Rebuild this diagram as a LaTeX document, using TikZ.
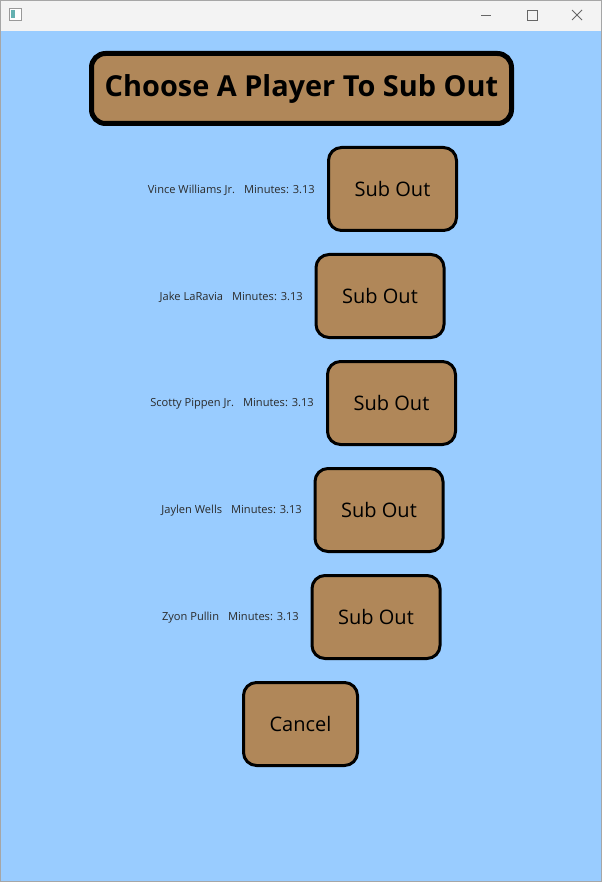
\documentclass[tikz,border=0pt]{standalone}
\usepackage{fontspec}
\setmainfont{Open Sans}
\definecolor{bgblue}{HTML}{99CCFF}
\definecolor{tan}{HTML}{B08759}
\definecolor{barg}{HTML}{F3F3F3}
\definecolor{lbl}{HTML}{2A2A2A}
\tikzset{
  subbtn/.style={draw=black, line width=3pt, fill=tan, rounded corners=13pt,
    minimum width=128pt, minimum height=83pt, inner sep=0pt,
    font=\fontsize{20}{24}\selectfont},
  titlebtn/.style={draw=black, line width=5pt, fill=tan, rounded corners=14pt,
    minimum width=420pt, minimum height=70pt, inner sep=0pt,
    font=\fontsize{28.9}{34}\selectfont\bfseries},
  lbltext/.style={anchor=east, text=lbl, inner sep=0pt, font=\fontsize{11.1}{13}\selectfont},
  icon/.style={draw=black!60, line width=0.8pt}
}
\newcommand{\gapx}{\hspace{9pt}}
\begin{document}
\begin{tikzpicture}[x=1pt,y=-1pt]
\useasboundingbox (0,0) rectangle (602,882);
% window
\fill[barg] (0,0) rectangle (602,31);
\fill[bgblue] (1,31) rectangle (601,881);
\draw[black!35, line width=0.8pt] (0.5,881.5) -- (0.5,0.5) -- (601.5,0.5) -- (601.5,881.5) -- cycle;
% title bar icons
\draw[black!40, fill=white, line width=0.6pt] (9,8) rectangle (21,20);
\fill[teal!60] (10.5,10) rectangle (15,18.5);
\draw[icon] (481,15.5) -- (491,15.5);
\draw[icon] (527,10) rectangle (537,20);
\draw[icon] (572,10) -- (582,20) (582,10) -- (572,20);
% title
\node[titlebtn] (title) at (301.5,88.5) {Choose A Player To Sub Out};
% rows
\node[subbtn] (b1) at (392.5,189) {Sub Out};
\node[lbltext] (l1) at (315,190) {Vince Williams Jr.\gapx Minutes: 3.13};
\node[subbtn] (b2) at (380,296) {Sub Out};
\node[lbltext] (l2) at (303,297) {Jake LaRavia\gapx Minutes: 3.13};
\node[subbtn] (b3) at (391.5,403) {Sub Out};
\node[lbltext] (l3) at (314,404) {Scotty Pippen Jr.\gapx Minutes: 3.13};
\node[subbtn] (b4) at (379,510) {Sub Out};
\node[lbltext] (l4) at (302,511) {Jaylen Wells\gapx Minutes: 3.13};
\node[subbtn] (b5) at (376,617) {Sub Out};
\node[lbltext] (l5) at (299,618) {Zyon Pullin\gapx Minutes: 3.13};
\node[subbtn, minimum width=114pt] (cancel) at (300.5,724) {Cancel};
\end{tikzpicture}
\end{document}
